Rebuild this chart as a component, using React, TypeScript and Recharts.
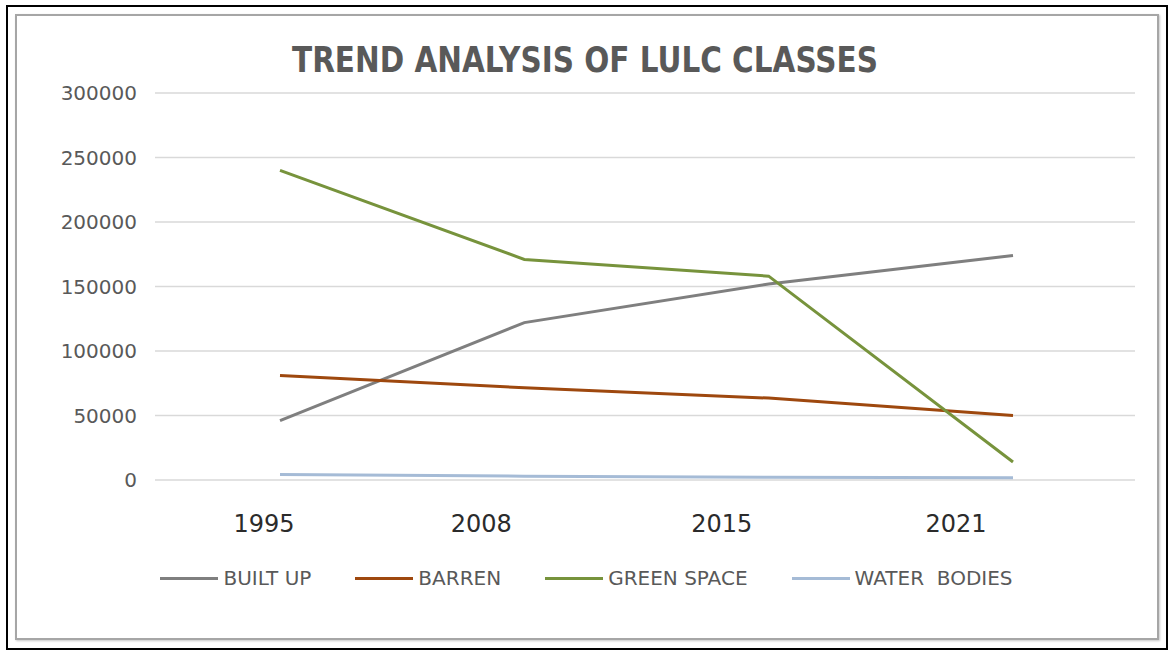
import React from 'react';
import { LineChart, Line, XAxis, YAxis, CartesianGrid, Legend } from 'recharts';

const years = ['1995', '2008', '2015', '2021'];
const builtUp = [46000, 122000, 152000, 174000];
const barren = [81000, 71500, 63500, 50000];
const greenSpace = [240000, 171000, 158000, 14000];
const waterBodies = [4200, 3000, 2200, 1800];
const yTicks = [0, 50000, 100000, 150000, 200000, 250000, 300000];

const series = [
  { key: 'builtUp', name: 'BUILT UP', color: '#7f7f7f' },
  { key: 'barren', name: 'BARREN', color: '#9e480e' },
  { key: 'greenSpace', name: 'GREEN SPACE', color: '#77933c' },
  { key: 'waterBodies', name: 'WATER  BODIES', color: '#a5bbd6' },
];

const data = years.map((year, i) => ({
  year,
  builtUp: builtUp[i],
  barren: barren[i],
  greenSpace: greenSpace[i],
  waterBodies: waterBodies[i],
}));

// the year labels sit a bit left of their points in the original
const labelShift = [-16, -43, -47, -57];

const YearTick = (props: any) => {
  const { x, y, payload, index } = props;
  return (
    <text
      x={x + (labelShift[index] ?? 0)}
      y={y}
      dy={44}
      textAnchor="middle"
      fill="#2b2b2b"
      fontSize={24}
      fontFamily="'DejaVu Sans', sans-serif"
    >
      {payload.value}
    </text>
  );
};

const LegendContent = () => (
  <div style={{ display: 'flex', justifyContent: 'center', alignItems: 'center', paddingLeft: 0 }}>
    {series.map((s, i) => (
      <div key={s.key} style={{ display: 'flex', alignItems: 'center', marginRight: i < series.length - 1 ? 44 : 0 }}>
        <div style={{ width: 58, height: 3, background: s.color, marginRight: 5 }} />
        <span
          style={{
            whiteSpace: 'pre',
            fontSize: 20,
            color: '#595959',
            fontFamily: "'DejaVu Sans', sans-serif",
          }}
        >
          {s.name}
        </span>
      </div>
    ))}
  </div>
);

export default function App() {
  return (
    <div style={{ position: 'absolute', left: 0, top: 0, width: 1173, height: 654, background: '#fff' }}>
      <div
        style={{
          position: 'absolute',
          left: 6,
          top: 5,
          width: 1158,
          height: 641,
          border: '2px solid #000',
        }}
      />
      <div
        style={{
          position: 'absolute',
          left: 15,
          top: 14,
          width: 1140,
          height: 622,
          border: '2px solid #a6a6a6',
          boxShadow: '1px 1px 2px #c8c8c8',
        }}
      />
      <svg width={1173} height={100} style={{ position: 'absolute', left: 0, top: 0 }}>
        <text
          x={292}
          y={72}
          textLength={586}
          lengthAdjust="spacingAndGlyphs"
          fontSize={35}
          fontWeight="bold"
          fill="#595959"
          fontFamily="'DejaVu Sans', sans-serif"
        >
          TREND ANALYSIS OF LULC CLASSES
        </text>
      </svg>
      <div style={{ position: 'absolute', left: 0, top: 0 }}>
        <LineChart width={1173} height={654} data={data} margin={{ top: 93, right: 38, bottom: 134, left: 0 }}>
          <CartesianGrid vertical={false} stroke="#d9d9d9" strokeWidth={1.5} />
          <XAxis
            dataKey="year"
            height={40}
            axisLine={false}
            tickLine={false}
            tick={<YearTick />}
            interval={0}
            padding={{ left: 125, right: 122 }}
          />
          <YAxis
            width={155}
            domain={[0, 300000]}
            ticks={yTicks}
            axisLine={false}
            tickLine={false}
            tickMargin={12}
            tick={{ fontSize: 20, fill: '#595959', fontFamily: "'DejaVu Sans', sans-serif" }}
          />
          <Legend
            layout="horizontal"
            verticalAlign="middle"
            align="center"
            content={<LegendContent />}
            wrapperStyle={{ top: 566, left: 0, width: 1173 }}
          />
          {series.map((s) => (
            <Line
              key={s.key}
              type="linear"
              dataKey={s.key}
              name={s.name}
              stroke={s.color}
              strokeWidth={3}
              dot={false}
              activeDot={false}
              isAnimationActive={false}
            />
          ))}
        </LineChart>
      </div>
    </div>
  );
}
